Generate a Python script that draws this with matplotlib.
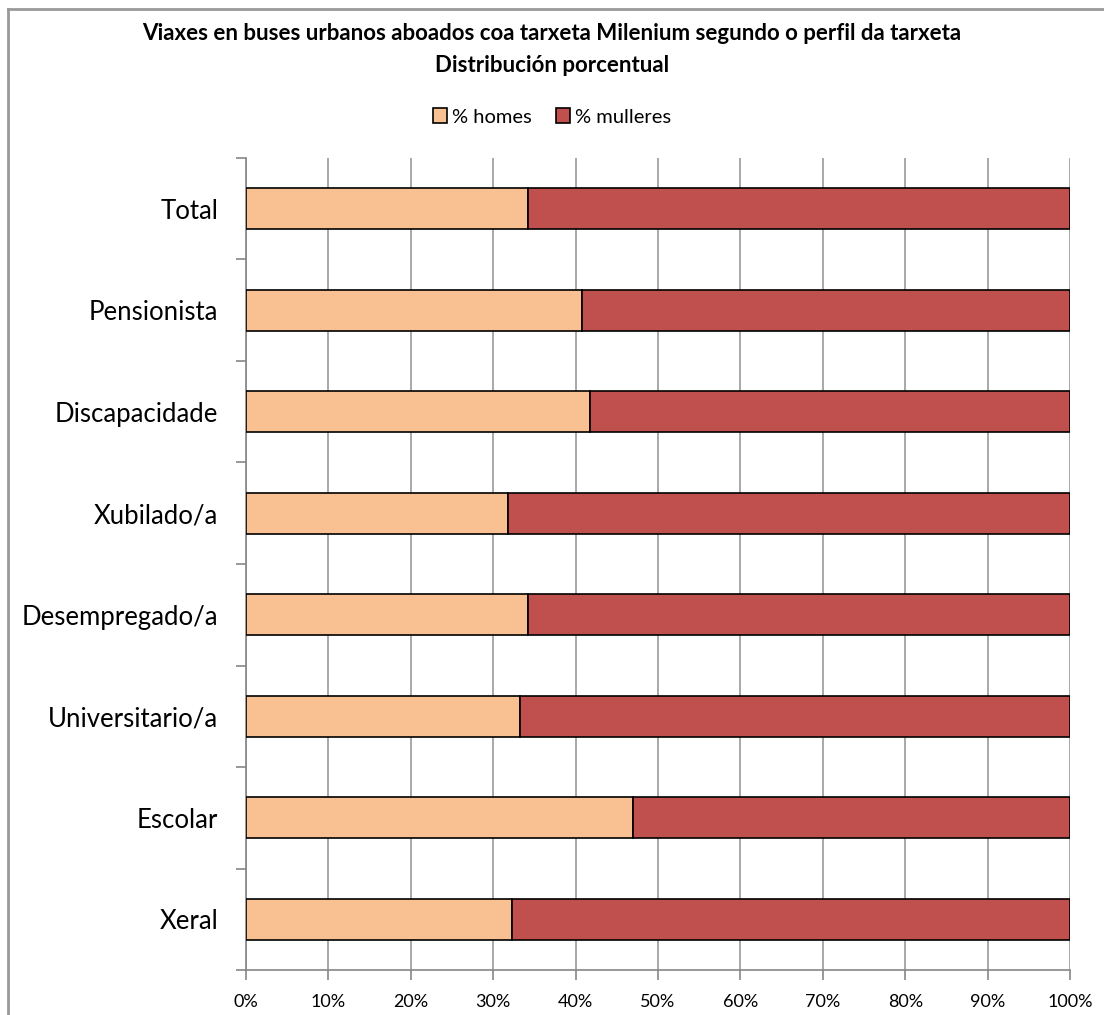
import matplotlib.pyplot as plt
from matplotlib.lines import Line2D
import numpy as np

plt.rcParams['font.family'] = ['Lato', 'DejaVu Sans']

# categories from top to bottom as in the chart
categories = ['Total', 'Pensionista', 'Discapacidade', 'Xubilado/a',
              'Desempregado/a', 'Universitario/a', 'Escolar', 'Xeral']
homes = [34.2, 40.8, 41.7, 31.8, 34.2, 33.3, 47.0, 32.3]
mulleres = [100 - h for h in homes]
xticks = [0, 10, 20, 30, 40, 50, 60, 70, 80, 90, 100]

fig = plt.figure(figsize=(11.04, 10.15), dpi=100)
ax = fig.add_axes([246/1104, 45/1015, 824/1104, 812/1015])

y = np.arange(len(categories))[::-1]
ax.barh(y, homes, height=0.4, color='#F9C192', edgecolor='black', linewidth=1.2,
        label='% homes', zorder=3)
ax.barh(y, mulleres, left=homes, height=0.4, color='#C0504D', edgecolor='black',
        linewidth=1.2, label='% mulleres', zorder=3)

ax.set_xlim(0, 100)
ax.set_ylim(-0.5, len(categories) - 0.5)
ax.set_xticks(xticks)
ax.set_xticklabels([str(t) + '%' for t in xticks], fontsize=13)
ax.set_yticks(y)
ax.set_yticklabels(categories, fontsize=18.5)
ax.set_yticks(np.arange(len(categories) + 1) - 0.5, minor=True)
ax.tick_params(axis='y', which='major', length=0, pad=20)
ax.tick_params(axis='y', which='minor', length=7, color='#868686', width=1.2)
ax.tick_params(axis='x', length=7, color='#868686', width=1.2, pad=10)

ax.grid(axis='x', color='#999999', linewidth=1.2, zorder=0)
for s in ['top', 'right']:
    ax.spines[s].set_visible(False)
for s in ['left', 'bottom']:
    ax.spines[s].set_color('#868686')
    ax.spines[s].set_linewidth(1.2)

fig.text(0.5, 1 - 34/1015, 'Viaxes en buses urbanos aboados coa tarxeta Milenium segundo o perfil da tarxeta',
         ha='center', va='center', fontsize=16, fontweight='bold')
fig.text(0.5, 1 - 65/1015, 'Distribución porcentual',
         ha='center', va='center', fontsize=16, fontweight='bold')

fig.legend(loc='center', bbox_to_anchor=(0.5, 1 - 117/1015), ncol=2, frameon=False,
           fontsize=14.5, handlelength=0.7, handleheight=0.7, handletextpad=0.25,
           columnspacing=1.2)

# chart border
fig.add_artist(Line2D([8/1104, 8/1104], [0, 1 - 9/1015], transform=fig.transFigure,
                      color='#999999', linewidth=2))
fig.add_artist(Line2D([8/1104, 1], [1 - 9/1015, 1 - 9/1015], transform=fig.transFigure,
                      color='#999999', linewidth=2))

fig.savefig('out.png', dpi=100)
